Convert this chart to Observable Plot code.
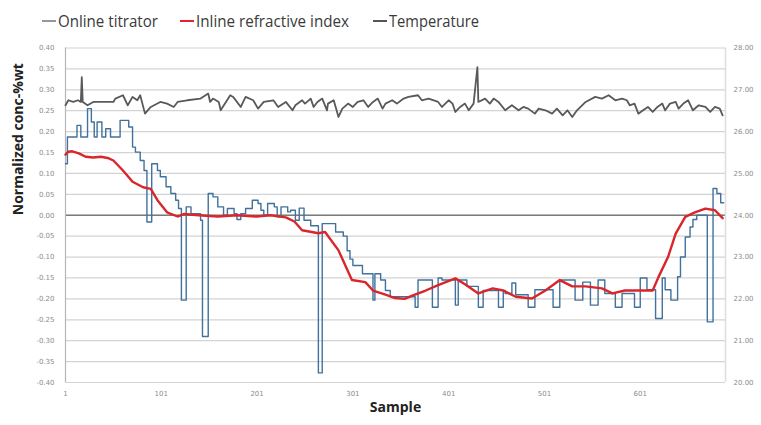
<!DOCTYPE html>
<html>
<head>
<meta charset="utf-8">
<script src="https://cdn.jsdelivr.net/npm/d3@7"></script>
<script src="https://cdn.jsdelivr.net/npm/@observablehq/plot@0.6"></script>
<style>
  html, body { margin: 0; padding: 0; background: #fff; }
  #legend { position: relative; width: 761px; height: 36px; font-family: "Open Sans", sans-serif; font-size: 17px; color: #3a3a3a; }
  #legend .item { position: absolute; top: 9px; line-height: 24px; white-space: nowrap; }
  #legend .item i { display: inline-block; width: 14px; height: 2px; vertical-align: middle; margin-right: 2px; position: relative; top: -1px; }
  #legend .item span { display: inline-block; transform-origin: left center; }
  #chart svg { display: block; }
</style>
</head>
<body>
<div id="legend"></div>
<div id="chart"></div>
<script>
// ---- Data ----
const legendLabels = ["Online titrator", "Inline refractive index", "Temperature"];
const legendColors = ["#8d99a6", "#e0262c", "#555555"];

const xTicks = [1, 101, 201, 301, 401, 501, 601];
const leftTicks = [0.40, 0.35, 0.30, 0.25, 0.20, 0.15, 0.10, 0.05, 0.00, -0.05, -0.10, -0.15, -0.20, -0.25, -0.30, -0.35, -0.40];
const tempTicks = [28, 27, 26, 25, 24, 23, 22, 21, 20];
const tempRange = [20, 28];

// Online titrator (step series): sample where each level starts, and the level
const titratorSample = [1,3,13,17,24,28,31,34,39,43,48,58,67,71,74,79,83,86,91,97,100,106,111,116,119,122,127,132,142,144,150,155,160,166,170,177,180,184,189,196,202,205,208,212,219,222,226,233,236,241,245,250,257,265,269,283,291,295,298,301,311,322,324,330,335,340,366,369,384,390,394,408,411,420,432,437,453,458,460,467,471,484,491,510,517,533,541,549,557,564,575,582,595,601,608,617,624,627,633,640,643,648,653,656,660,671,677,681,685,688];
const titratorValue = [0.123,0.187,0.215,0.187,0.255,0.223,0.187,0.223,0.187,0.207,0.187,0.227,0.211,0.163,0.151,0.131,0.107,-0.016,0.123,0.107,0.092,0.068,0.052,0.036,0.016,-0.203,0.020,0.004,-0.012,-0.290,0.052,0.044,0.020,0.000,0.016,0.004,-0.010,0.004,0.016,0.036,0.028,0.012,0.000,0.028,0.020,-0.004,0.020,0.008,0.012,-0.012,0.017,-0.012,-0.025,-0.377,-0.020,-0.040,-0.050,-0.085,-0.105,-0.120,-0.140,-0.203,-0.140,-0.155,-0.180,-0.195,-0.220,-0.155,-0.220,-0.150,-0.155,-0.215,-0.155,-0.170,-0.220,-0.180,-0.220,-0.180,-0.187,-0.162,-0.190,-0.220,-0.178,-0.220,-0.155,-0.203,-0.160,-0.215,-0.155,-0.187,-0.220,-0.187,-0.220,-0.150,-0.178,-0.247,-0.150,-0.178,-0.203,-0.147,-0.100,-0.052,-0.028,-0.010,0.000,-0.255,0.064,0.052,0.030,0.030];

// Inline refractive index
const refractiveSample = [1,4,8,15,22,30,38,45,51,61,71,82,90,97,107,118,125,140,160,180,200,215,231,240,248,258,265,272,286,300,314,322,335,345,355,363,377,390,408,418,432,447,458,471,488,502,517,530,544,561,572,585,599,614,620,630,638,648,658,669,679,687];
const refractiveValue = [0.145,0.152,0.153,0.148,0.140,0.138,0.140,0.137,0.131,0.107,0.080,0.067,0.063,0.036,0.007,-0.003,0.003,0.000,-0.003,0.000,-0.003,0.000,-0.005,-0.015,-0.036,-0.040,-0.043,-0.040,-0.084,-0.155,-0.160,-0.180,-0.190,-0.198,-0.200,-0.192,-0.180,-0.167,-0.151,-0.165,-0.187,-0.175,-0.180,-0.195,-0.199,-0.180,-0.155,-0.170,-0.170,-0.175,-0.187,-0.180,-0.180,-0.180,-0.148,-0.100,-0.044,-0.004,0.007,0.016,0.012,-0.007];

// Temperature (right axis)
const temperatureSample = [1,4,9,14,17,18,19,24,30,51,53,61,66,71,76,79,84,90,100,107,114,118,128,142,150,152,155,161,163,173,176,184,189,197,202,208,218,223,231,238,241,248,251,257,260,264,269,274,275,281,286,290,296,301,306,312,317,322,327,332,335,342,347,354,359,369,373,380,390,394,401,405,408,413,418,422,427,431,432,439,444,448,453,460,467,474,479,484,491,495,502,509,514,520,525,530,535,544,554,561,568,575,582,587,590,595,599,604,609,614,619,624,627,632,638,641,646,651,656,662,669,674,679,684,687];
const temperatureValue = [26.63,26.75,26.71,26.75,26.71,27.30,26.71,26.63,26.71,26.71,26.79,26.87,26.63,26.83,26.75,26.87,26.43,26.59,26.71,26.67,26.59,26.71,26.75,26.79,26.91,26.71,26.79,26.71,26.51,26.87,26.83,26.59,26.83,26.75,26.55,26.71,26.75,26.59,26.71,26.51,26.63,26.75,26.67,26.79,26.59,26.71,26.79,26.51,26.67,26.75,26.35,26.55,26.67,26.59,26.71,26.75,26.59,26.71,26.79,26.55,26.67,26.75,26.67,26.79,26.83,26.87,26.75,26.79,26.71,26.59,26.75,26.67,26.47,26.59,26.67,26.51,26.67,27.54,26.71,26.79,26.67,26.79,26.71,26.51,26.63,26.51,26.59,26.55,26.43,26.55,26.51,26.43,26.55,26.39,26.51,26.35,26.51,26.71,26.83,26.79,26.87,26.75,26.79,26.75,26.63,26.67,26.43,26.51,26.59,26.47,26.59,26.67,26.51,26.67,26.71,26.55,26.67,26.75,26.51,26.63,26.59,26.47,26.59,26.55,26.39];

// ---- Build tables ----
const titrator = titratorSample.map((s, i) => ({sample: s, value: titratorValue[i]}));
const refractive = refractiveSample.map((s, i) => ({sample: s, value: refractiveValue[i]}));
// temperature mapped onto the left scale so that 20..28 spans -0.40..0.40
const tToV = t => -0.4 + (t - tempRange[0]) / (tempRange[1] - tempRange[0]) * 0.8;
const temperature = temperatureSample.map((s, i) => ({sample: s, value: tToV(temperatureValue[i])}));

// ---- Legend ----
const legendLeft = [42, 180, 373];
const legendTextWidth = [100, 153, 90];
const legend = document.getElementById("legend");
legendLabels.forEach((lab, i) => {
  const item = document.createElement("span");
  item.className = "item";
  item.style.left = legendLeft[i] + "px";
  const dash = document.createElement("i");
  dash.style.background = legendColors[i];
  item.appendChild(dash);
  const txt = document.createElement("span");
  txt.textContent = lab;
  item.appendChild(txt);
  legend.appendChild(item);
  const w = txt.getBoundingClientRect().width;
  if (w > 0) txt.style.transform = `scaleX(${legendTextWidth[i] / w})`;
});

// ---- Chart ----
const tickStyle = {fontSize: 7, fill: "#8c8c8c", fontFamily: "DejaVu Sans"};
const chart = Plot.plot({
  width: 761,
  height: 389,
  marginTop: 11.5,
  marginBottom: 43,
  marginLeft: 65,
  marginRight: 36,
  style: {fontFamily: "Open Sans, sans-serif", background: "#fff"},
  x: {domain: [1, 690]},
  y: {domain: [-0.4, 0.4]},
  marks: [
    Plot.ruleY(leftTicks, {stroke: "#d3d3d3", strokeWidth: 1.2}),
    Plot.ruleY([0], {stroke: "#7a7a7a", strokeWidth: 1.3}),
    Plot.ruleX([1], {stroke: "#b5b5b5", strokeWidth: 1.2, y1: -0.4, y2: 0.4}),
    Plot.ruleX([690], {stroke: "#dedede", strokeWidth: 1.5, y1: -0.4, y2: 0.4}),
    Plot.axisY(leftTicks, {anchor: "left", tickSize: 0, tickPadding: 11, tickFormat: d => d.toFixed(2), label: null, ...tickStyle}),
    Plot.axisY(tempTicks.map(tToV), {anchor: "right", tickSize: 0, tickPadding: 8, textAnchor: "start",
      tickFormat: (d, i) => tempTicks[i].toFixed(2), label: null, ...tickStyle}),
    Plot.axisX(xTicks, {anchor: "bottom", tickSize: 0, tickPadding: 9, tickFormat: d => String(d), label: null, ...tickStyle}),
    Plot.text(["Normalized conc-%wt"], {frameAnchor: "left", dx: -47, rotate: -90, fontWeight: "bold", fontSize: 14, fill: "#222"}),
    Plot.text(["Sample"], {frameAnchor: "bottom", dy: 29, fontWeight: "bold", fontSize: 14, fill: "#222"}),
    Plot.line(titrator, {x: "sample", y: "value", curve: "step-after", stroke: "#41719c", strokeWidth: 1.4}),
    Plot.line(refractive, {x: "sample", y: "value", curve: "linear", stroke: "#d8262b", strokeWidth: 2.4}),
    Plot.line(temperature, {x: "sample", y: "value", curve: "linear", stroke: "#595959", strokeWidth: 1.8})
  ]
});
document.getElementById("chart").appendChild(chart);
</script>
</body>
</html>
